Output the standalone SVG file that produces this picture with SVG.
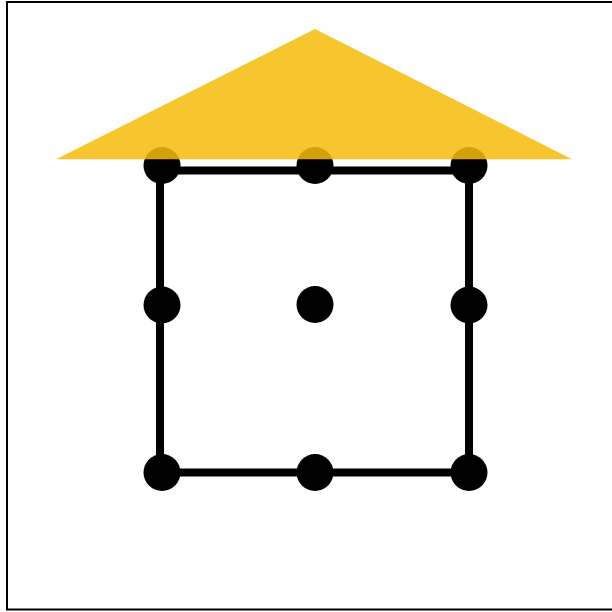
<svg xmlns="http://www.w3.org/2000/svg" width="612" height="612" viewBox="0 0 612 612">
  <style>
    .dot { fill: #000000; }
    .frame { fill: none; stroke: #000000; stroke-width: 2; }
    .edge { fill: none; stroke: #000000; stroke-width: 8; }
  </style>
  <rect width="612" height="612" fill="#ffffff"/>
  <rect class="frame" x="7" y="2" width="610" height="607.5"/>
  <g id="connectors">
    <path class="edge" d="M160,170.5 H469 V472.5 H160 Z"/>
  </g>
  <g id="n1"><circle class="dot" cx="162" cy="165.5" r="18.5"/></g>
  <g id="n2"><circle class="dot" cx="315" cy="165.5" r="18.5"/></g>
  <g id="n3"><circle class="dot" cx="469" cy="165.5" r="18.5"/></g>
  <g id="n4"><circle class="dot" cx="162" cy="305" r="18.5"/></g>
  <g id="n5"><circle class="dot" cx="315" cy="304.5" r="18.5"/></g>
  <g id="n6"><circle class="dot" cx="469" cy="305" r="18.5"/></g>
  <g id="n7"><circle class="dot" cx="162" cy="472.5" r="18.5"/></g>
  <g id="n8"><circle class="dot" cx="315" cy="472.5" r="18.5"/></g>
  <g id="n9"><circle class="dot" cx="469" cy="472.5" r="18.5"/></g>
  <g id="roof"><polygon points="56,159.3 315,29 572,159.3" fill="#F6BC0A" fill-opacity="0.86"/></g>
</svg>
